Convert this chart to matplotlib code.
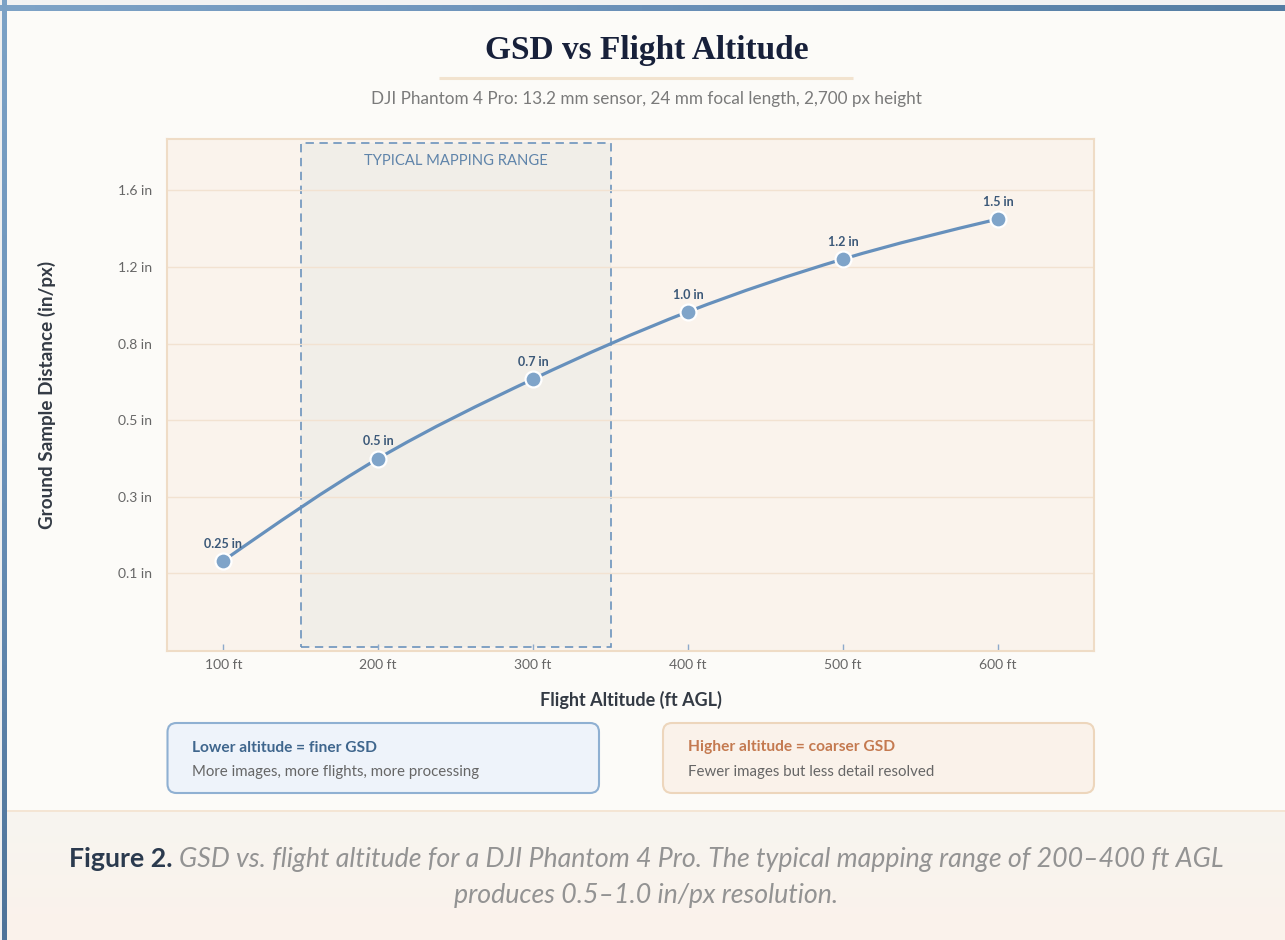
import numpy as np
import matplotlib
matplotlib.use('Agg')
import matplotlib.pyplot as plt
from matplotlib.patches import Rectangle, FancyBboxPatch, PathPatch
from matplotlib.path import Path
from matplotlib.colors import LinearSegmentedColormap
import matplotlib.transforms as mtransforms

# ---------------- data ----------------
altitudes = [100, 200, 300, 400, 500, 600]
x_tick_labels = ['100 ft', '200 ft', '300 ft', '400 ft', '500 ft', '600 ft']
gsd_values = [0.145, 0.394, 0.672, 0.965, 1.231, 1.455]
point_labels = ['0.25 in', '0.5 in', '0.7 in', '1.0 in', '1.2 in', '1.5 in']
y_ticks = [0.1225, 0.286, 0.518, 0.819, 1.188, 1.626]
y_tick_labels = ['0.1 in', '0.3 in', '0.5 in', '0.8 in', '1.2 in', '1.6 in']
range_start, range_end = 150, 350

title = 'GSD vs Flight Altitude'
subtitle = 'DJI Phantom 4 Pro: 13.2 mm sensor, 24 mm focal length, 2,700 px height'
x_label = 'Flight Altitude (ft AGL)'
y_label = 'Ground Sample Distance (in/px)'
range_label = 'TYPICAL MAPPING RANGE'
box_left = ('Lower altitude = finer GSD', 'More images, more flights, more processing')
box_right = ('Higher altitude = coarser GSD', 'Fewer images but less detail resolved')
caption_bold = 'Figure 2.'
caption_line1 = 'GSD vs. flight altitude for a DJI Phantom 4 Pro. The typical mapping range of 200\u2013400 ft AGL'
caption_line2 = 'produces 0.5\u20131.0 in/px resolution.'

SANS = 'Lato'
W, H = 1285, 940
plt.rcParams['font.family'] = [SANS, 'DejaVu Sans']
plt.rcParams['lines.scale_dashes'] = False

fig = plt.figure(figsize=(W / 100, H / 100), dpi=100)
fig.patch.set_facecolor('#FCFBF8')

# ---------------- background layer (pixel coords) ----------------
bg = fig.add_axes([0, 0, 1, 1], zorder=0)
bg.axis('off')

bg.add_patch(Rectangle((0, 0), W, 5, color='#F2F2F2', lw=0))
bg.add_patch(Rectangle((0, 0), 2, H, color='#F0F0F0', lw=0))
cm_top = LinearSegmentedColormap.from_list('t', ['#7EA3C7', '#6A90B8', '#547DA3'])
bg.imshow(np.linspace(0, 1, 256).reshape(1, -1), cmap=cm_top, extent=[0, W, 11, 5], aspect='auto', zorder=2)
cm_left = LinearSegmentedColormap.from_list('l', ['#7CA2C6', '#6990B8', '#4E7399'])
bg.imshow(np.linspace(0, 1, 256).reshape(-1, 1), cmap=cm_left, extent=[2, 7, H, 0], aspect='auto', zorder=3)

cm_cap = LinearSegmentedColormap.from_list('c', ['#F7F5F0', '#FBF2EB'])
bg.imshow(np.linspace(0, 1, 256).reshape(-1, 1), cmap=cm_cap, extent=[7, W, H, 810], aspect='auto', zorder=1)
bg.plot([7, W], [810.5, 810.5], color='#F4E2CF', lw=1.2, zorder=2)

# title + underline + subtitle
bg.text(647, 50, title, ha='center', va='center', fontsize=24, fontweight='bold',
        family=['Liberation Serif', 'DejaVu Serif'], color='#17203A')
bg.plot([439, 853], [77.5, 77.5], color='#F2E3CF', lw=2.2, solid_capstyle='butt')
bg.text(646.5, 99, subtitle, ha='center', va='center', fontsize=12.3, color='#7A7A7A')

# axis titles
bg.text(47, 395, y_label, rotation=90, ha='center', va='center', fontsize=13.6,
        fontweight='bold', color='#333A44')
bg.text(631, 700, x_label, ha='center', va='center', fontsize=13, fontweight='bold', color='#333A44')

# info boxes
for (x0, x1, fc, ec, head_c, texts) in [
        (167.5, 599, '#EEF3FA', '#8FB0D2', '#3F668D', box_left),
        (663, 1094, '#FAF2EA', '#EDD6BC', '#C47A50', box_right)]:
    bg.add_patch(FancyBboxPatch((x0, 723), x1 - x0, 70,
                                boxstyle='round,pad=0,rounding_size=9',
                                fc=fc, ec=ec, lw=1.5, zorder=2))
    bg.text(x0 + 24.5, 747.5, texts[0], ha='left', va='center', fontsize=11.2,
            fontweight='bold', color=head_c, zorder=3)
    bg.text(x0 + 24.5, 772, texts[1], ha='left', va='center', fontsize=10.8,
            color='#666666', zorder=3)

# caption
cap_size = 19.3
t_b = bg.text(0, 859, caption_bold, ha='left', va='center', fontsize=cap_size,
              fontweight='bold', color='#2B3A4E', zorder=3)
t_i = bg.text(0, 859, caption_line1, ha='left', va='center', fontsize=cap_size,
              style='italic', color='#939393', zorder=3)
bg.text(646.5, 895, caption_line2, ha='center', va='center', fontsize=cap_size,
        style='italic', color='#939393', zorder=3)
renderer = fig.canvas.get_renderer()
wb = t_b.get_window_extent(renderer).width
wi = t_i.get_window_extent(renderer).width
gap = 7
start = 646.5 - (wb + gap + wi) / 2
t_b.set_x(start)
t_i.set_x(start + wb + gap)

bg.set_xlim(0, W)
bg.set_ylim(H, 0)

# ---------------- main chart ----------------
L, R, T, B = 167, 1094, 139, 650.5
ax = fig.add_axes([L / W, 1 - B / H, (R - L) / W, (B - T) / H], zorder=2)
ax.set_facecolor('#FAF3EC')
for sp in ax.spines.values():
    sp.set_color('#EFDCC6')
    sp.set_linewidth(1.5)

ax.set_yscale('function', functions=(lambda v: np.sqrt(np.clip(v, 0, None)), lambda s: np.square(s)))
ax.set_xlim(63.7, 661.9)
ax.set_ylim(0.0269, 1.9586)

ax.set_xticks(altitudes)
ax.set_xticklabels(x_tick_labels)
ax.set_yticks(y_ticks)
ax.set_yticklabels(y_tick_labels)
ax.minorticks_off()
ax.yaxis.grid(True, color='#F2E2D1', lw=1)
ax.set_axisbelow(True)
ax.tick_params(axis='y', length=0, pad=11, labelsize=10, labelcolor='#666666')
ax.tick_params(axis='x', direction='in', length=5, width=1, color='#8EAACB', pad=6,
               labelsize=10, labelcolor='#666666')

# typical range band
blend = mtransforms.blended_transform_factory(ax.transData, ax.transAxes)
ax.add_patch(Rectangle((range_start, 0.0074), range_end - range_start, 0.9854, transform=blend,
                       fc='#F1EEE8', ec='#6C93BD', lw=1.2, ls=(0, (6, 4)), zorder=0.3))
ax.text((range_start + range_end) / 2, 0.957, range_label, transform=blend, ha='center',
        va='center', fontsize=10.6, color='#5F84AA')

# smooth monotone curve (drawn as cubic Bezier path through the data points)
xs = np.array(altitudes, float)
ss = np.sqrt(np.array(gsd_values, float))
h = np.diff(xs)
sec = np.diff(ss) / h
n = len(xs)
tg = np.zeros(n)
for i in range(1, n - 1):
    s0, s1 = sec[i - 1], sec[i]
    p = (s0 * h[i] + s1 * h[i - 1]) / (h[i - 1] + h[i])
    tg[i] = (np.sign(s0) + np.sign(s1)) * min(abs(s0), abs(s1), 0.5 * abs(p))
tg[0] = (3 * sec[0] - tg[1]) / 2
tg[-1] = (3 * sec[-1] - tg[-2]) / 2
verts = [(xs[0], ss[0] ** 2)]
codes = [Path.MOVETO]
for i in range(n - 1):
    d = h[i] / 3
    verts += [(xs[i] + d, (ss[i] + d * tg[i]) ** 2),
              (xs[i + 1] - d, (ss[i + 1] - d * tg[i + 1]) ** 2),
              (xs[i + 1], ss[i + 1] ** 2)]
    codes += [Path.CURVE4] * 3
ax.add_patch(PathPatch(Path(verts, codes), fill=False, ec='#6690BC', lw=2.3,
                       capstyle='round', joinstyle='round', zorder=3))

ax.plot(altitudes, gsd_values, 'o', ms=11.5, mfc='#7FA4C9', mec='white', mew=1.6, zorder=4)
for xv, yv, lab in zip(altitudes, gsd_values, point_labels):
    ax.annotate(lab, (xv, yv), xytext=(0, 12.3), textcoords='offset points', ha='center',
                va='center', fontsize=9, fontweight='bold', color='#3B5878', zorder=5)

fig.savefig('out.png', dpi=100, facecolor=fig.get_facecolor())
